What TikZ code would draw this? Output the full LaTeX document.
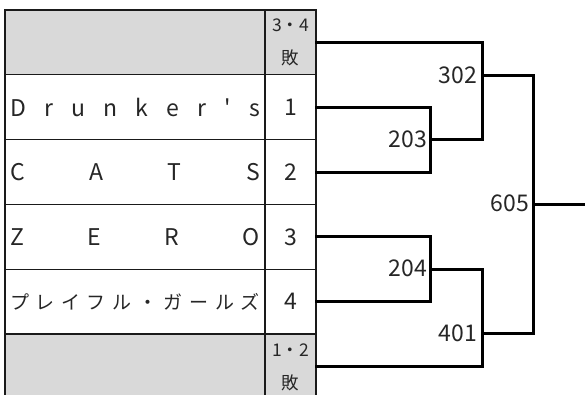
\documentclass[tikz,border=0pt]{standalone}
\usepackage{fontspec}
\setmainfont{Noto Sans CJK JP}[Ligatures=TeXOff]
\definecolor{cellgray}{HTML}{D9D9D9}
\definecolor{gridline}{HTML}{1A1A1A}
\newcommand{\spreadtext}[1]{\makebox[250pt][s]{#1}}
\begin{document}
\begin{tikzpicture}[x=1pt,y=-1pt,
  namecell/.style={draw=gridline,line width=1.2pt,minimum width=260pt,minimum height=64.8pt,inner sep=0pt,font=\fontsize{23}{26}\selectfont,text=black!85},
  numcell/.style={draw=gridline,line width=1.2pt,minimum width=51pt,minimum height=64.8pt,inner sep=0pt,font=\fontsize{23}{26}\selectfont,text=black!85},
  small/.style={inner sep=0pt,font=\fontsize{17.5}{20}\selectfont,text=black!85},
  score/.style={inner sep=0pt,anchor=east,font=\fontsize{23}{26}\selectfont,text=black!85},
  br/.style={line width=3pt,line join=miter,line cap=rect}]
\useasboundingbox (0,0) rectangle (585,394);
\clip (0,0) rectangle (585,394);
% rows
\node[namecell,fill=cellgray] (a0) at (135,42.4) {};
\node[numcell,fill=cellgray] (n0) at (290.5,42.4) {};
\node[small] (s0a) at (290.5,25) {3・4};
\node[small] (s0b) at (290.5,58) {敗};
\node[namecell] (a1) at (135,107.2) {\spreadtext{D\hfill r\hfill u\hfill n\hfill k\hfill e\hfill r\hfill '\hfill s}};
\node[numcell] (n1) at (290.5,107.2) {1};
\node[namecell] (a2) at (135,172) {\spreadtext{C\hfill A\hfill T\hfill S}};
\node[numcell] (n2) at (290.5,172) {2};
\node[namecell] (a3) at (135,236.8) {\spreadtext{Z\hfill E\hfill R\hfill O}};
\node[numcell] (n3) at (290.5,236.8) {3};
\node[namecell] (a4) at (135,301.6) {\spreadtext{\fontsize{19}{22}\selectfont プ\hfill レ\hfill イ\hfill フ\hfill ル\hfill ・\hfill ガ\hfill ー\hfill ル\hfill ズ}};
\node[numcell] (n4) at (290.5,301.6) {4};
\node[namecell,fill=cellgray] (a5) at (135,366.4) {};
\node[numcell,fill=cellgray] (n5) at (290.5,366.4) {};
\node[small] (s5a) at (290.5,350) {1・2};
\node[small] (s5b) at (290.5,383) {敗};
% junctions
\coordinate (j203) at (430,139.5);
\coordinate (j302) at (482,75.5);
\coordinate (j204) at (430,269);
\coordinate (j401) at (482,333.3);
\coordinate (j605) at (533,204.3);
\coordinate (jend) at (590,204.3);
% brackets
\draw[br] (n1.east) -| (j203) |- (n2.east);
\draw[br] (n0.east) -| (j302) |- (j203);
\draw[br] (n3.east) -| (j204) |- (n4.east);
\draw[br] (j204) -| (j401) |- (n5.east);
\draw[br] (j302) -| (j605) |- (j401);
\draw[br] (j605) -- (jend);
% labels
\node[score] (l203) at (427,139) {203};
\node[score] (l302) at (477,75) {302};
\node[score] (l204) at (427,268) {204};
\node[score] (l401) at (477,333) {401};
\node[score] (l605) at (529,203) {605};
\end{tikzpicture}
\end{document}
